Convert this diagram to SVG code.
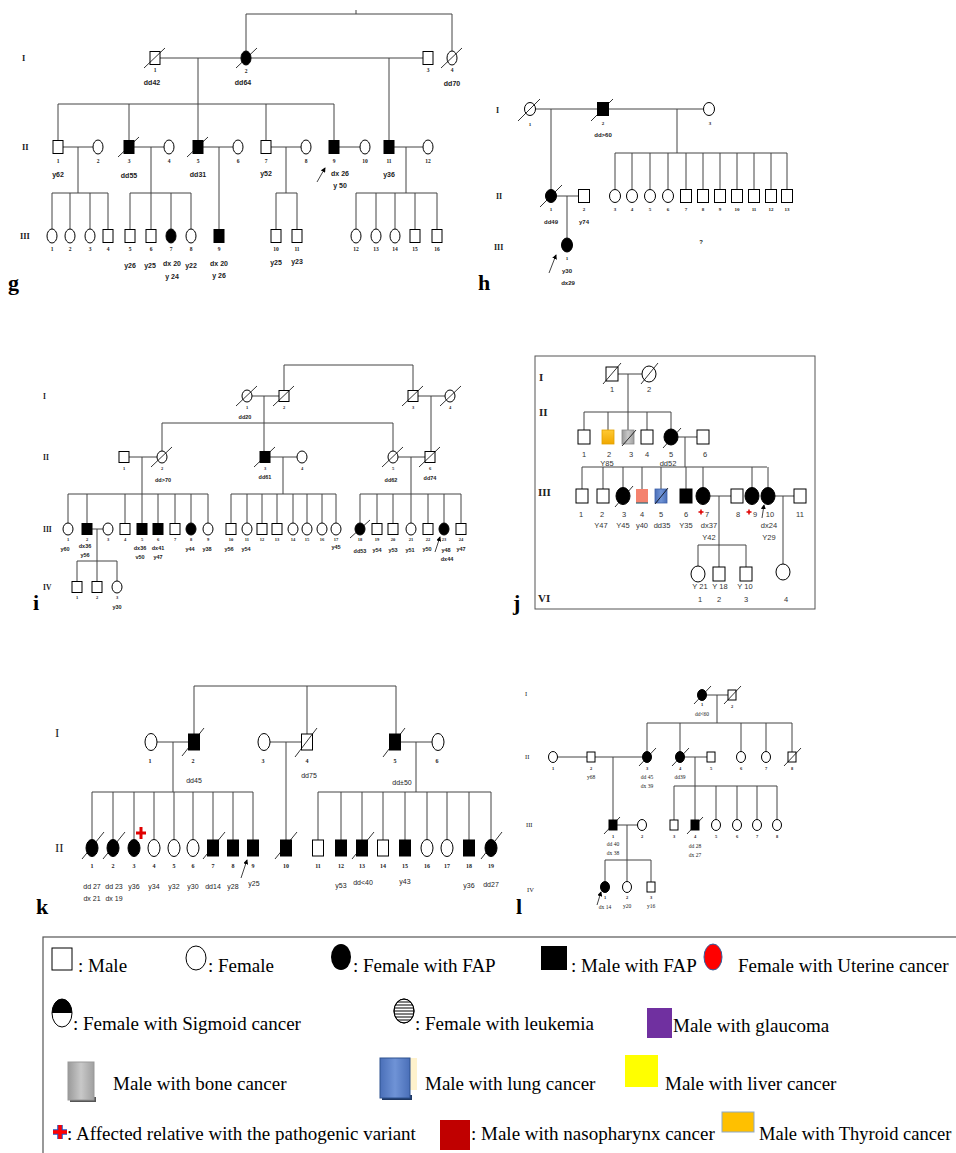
<svg xmlns="http://www.w3.org/2000/svg" width="956" height="1153" viewBox="0 0 956 1153">
<defs>
<style>
.o{fill:#fff;stroke:#000;stroke-width:1}
.f{fill:#000;stroke:#000;stroke-width:1}
.c{fill:none;stroke:#444;stroke-width:1}
.s{stroke:#000;stroke-width:0.8}
.t{font-family:"Liberation Sans Narrow","Liberation Sans",Arial,sans-serif;font-weight:bold;text-anchor:middle;fill:#222}
.n{font-family:"Liberation Serif",serif;font-weight:bold;text-anchor:middle;fill:#222}
.gen{font-family:"Liberation Serif",serif;font-weight:bold;fill:#222}
.pl{font-family:"Liberation Serif",serif;font-weight:bold;font-size:22px;fill:#000}
.lg{font-family:"Liberation Serif",serif;font-size:19px;fill:#000}
#pg .t{font-size:7px}#pg .n{font-size:5.5px}#pg .gen{font-size:8.5px}
#ph .t{font-size:6px}#ph .n{font-size:5px}#ph .gen{font-size:8px}
#pi .t{font-size:5.5px}#pi .n{font-size:4.5px}#pi .gen{font-size:7.5px}
#pj .t,#pj .n{font-size:7.5px;font-weight:normal;font-family:"Liberation Sans Narrow","Liberation Sans",sans-serif;fill:#333}#pj .gen{font-size:11px}
#pk .t{font-size:7px;font-weight:normal}#pk .n{font-size:6px}#pk .gen{font-size:13px;font-weight:normal}
#pl .t{font-size:5.5px;font-weight:normal;font-family:"Liberation Serif",serif}#pl .n{font-size:4.5px}#pl .gen{font-size:6.5px;font-weight:normal}
.rc{stroke:#e00000;fill:none}
</style>
<marker id="ah" viewBox="0 0 6 6" refX="5" refY="3" markerWidth="5" markerHeight="5" orient="auto"><path d="M0,0L6,3L0,6z" fill="#000"/></marker>
<linearGradient id="gGray" x1="0" y1="0" x2="1" y2="0"><stop offset="0" stop-color="#9a9a9a"/><stop offset="0.5" stop-color="#c8c8c8"/><stop offset="1" stop-color="#a0a0a0"/></linearGradient>
<linearGradient id="gBlue" x1="0" y1="0" x2="1" y2="0"><stop offset="0" stop-color="#4a6fb8"/><stop offset="0.5" stop-color="#6f93d6"/><stop offset="1" stop-color="#4a6fb8"/></linearGradient>
<linearGradient id="gOr" x1="0" y1="0" x2="0" y2="1"><stop offset="0" stop-color="#ffc933"/><stop offset="1" stop-color="#f0a800"/></linearGradient>
<clipPath id="leuk"><ellipse cx="404" cy="1011" rx="10" ry="12"/></clipPath>
</defs>
<rect width="956" height="1153" fill="#fff"/>

<!-- ================= PANEL g ================= -->
<g id="pg">
<g id="pg-links" class="c">
<path d="M246,51V14H452V51M356,10V14M160,58H241M251,58H423M198,58V104M58,104H334M58,104V140.5M129,104V140.5M198,104V140.5M266,104V140.5M334,104V140.5M389,58V140.5M63,147H93M134,147H164M203,147H233M271,147H301M339,147H360M394,147H423M78,147V193M52,193H108M52,193V229M70,193V229M90,193V229M108,193V229.5M151,147V193M130,193H191M130,193V229.5M151,193V229.5M171,193V229M191,193V229M219,147V229.5M286,147V193M276,193H297M276,193V229.5M297,193V229.5M406,147V193M356,193H437M356,193V229M376,193V229M395,193V229M415,193V229.5M437,193V229.5"/>
<path d="M317,182L325,168" marker-end="url(#ah)"/>
</g>
<text class="gen" x="22" y="61">I</text><text class="gen" x="22" y="150">II</text><text class="gen" x="20" y="239">III</text>
<text class="pl" x="8" y="290">g</text>
<g id="g-I-1"><rect class="o" x="150" y="51.5" width="10" height="13"/><line class="s" x1="144" y1="68" x2="165" y2="48"/><text class="n" x="155" y="72">1</text><text class="t" x="152" y="85">dd42</text></g>
<g id="g-I-2"><ellipse class="f" cx="246" cy="58" rx="5" ry="7"/><line class="s" x1="236" y1="68" x2="257" y2="48"/><text class="n" x="246" y="73">2</text><text class="t" x="243" y="85">dd64</text></g>
<g id="g-I-3"><rect class="o" x="423" y="51.5" width="10" height="13"/><text class="n" x="428" y="72">3</text></g>
<g id="g-I-4"><ellipse class="o" cx="452" cy="58" rx="5" ry="7"/><line class="s" x1="441" y1="68" x2="462" y2="48"/><text class="n" x="452" y="72">4</text><text class="t" x="452" y="86">dd70</text></g>
<g id="g-II-1"><rect class="o" x="53" y="140.5" width="10" height="13"/><text class="n" x="58" y="163">1</text><text class="t" x="58" y="177">y62</text></g>
<g id="g-II-2"><ellipse class="o" cx="98" cy="147" rx="5" ry="7"/><text class="n" x="98" y="163">2</text></g>
<g id="g-II-3"><rect class="f" x="124" y="140.5" width="10" height="13"/><line class="s" x1="118" y1="157" x2="139" y2="137"/><text class="n" x="129" y="163">3</text><text class="t" x="129" y="178">dd55</text></g>
<g id="g-II-4"><ellipse class="o" cx="169" cy="147" rx="5" ry="7"/><text class="n" x="169" y="163">4</text></g>
<g id="g-II-5"><rect class="f" x="193" y="140.5" width="10" height="13"/><line class="s" x1="187" y1="157" x2="208" y2="137"/><text class="n" x="198" y="163">5</text><text class="t" x="198" y="177">dd31</text></g>
<g id="g-II-6"><ellipse class="o" cx="238" cy="147" rx="5" ry="7"/><text class="n" x="238" y="163">6</text></g>
<g id="g-II-7"><rect class="o" x="261" y="140.5" width="10" height="13"/><text class="n" x="266" y="163">7</text><text class="t" x="266" y="176">y52</text></g>
<g id="g-II-8"><ellipse class="o" cx="306" cy="147" rx="5" ry="7"/><text class="n" x="306" y="163">8</text></g>
<g id="g-II-9"><rect class="f" x="329" y="140.5" width="10" height="13"/><text class="n" x="334" y="163">9</text><text class="t" x="340" y="176">dx 26</text><text class="t" x="340" y="188">y 50</text></g>
<g id="g-II-10"><ellipse class="o" cx="365" cy="147" rx="5" ry="7"/><text class="n" x="365" y="163">10</text></g>
<g id="g-II-11"><rect class="f" x="384" y="140.5" width="10" height="13"/><text class="n" x="389" y="163">11</text><text class="t" x="389" y="177">y36</text></g>
<g id="g-II-12"><ellipse class="o" cx="428" cy="147" rx="5" ry="7"/><text class="n" x="428" y="163">12</text></g>
<g id="g-III-1"><ellipse class="o" cx="52" cy="236" rx="5" ry="7"/><text class="n" x="52" y="251">1</text></g>
<g id="g-III-2"><ellipse class="o" cx="70" cy="236" rx="5" ry="7"/><text class="n" x="70" y="251">2</text></g>
<g id="g-III-3"><ellipse class="o" cx="90" cy="236" rx="5" ry="7"/><text class="n" x="90" y="251">3</text></g>
<g id="g-III-4"><rect class="o" x="103" y="229.5" width="10" height="13"/><text class="n" x="108" y="251">4</text></g>
<g id="g-III-5"><rect class="o" x="125" y="229.5" width="10" height="13"/><text class="n" x="130" y="251">5</text><text class="t" x="130" y="268">y26</text></g>
<g id="g-III-6"><rect class="o" x="146" y="229.5" width="10" height="13"/><text class="n" x="151" y="251">6</text><text class="t" x="150" y="268">y25</text></g>
<g id="g-III-7"><ellipse class="f" cx="171" cy="236" rx="5" ry="7"/><text class="n" x="171" y="251">7</text><text class="t" x="172" y="266">dx 20</text><text class="t" x="172" y="279">y 24</text></g>
<g id="g-III-8"><ellipse class="o" cx="191" cy="236" rx="5" ry="7"/><text class="n" x="191" y="251">8</text><text class="t" x="191" y="268">y22</text></g>
<g id="g-III-9"><rect class="f" x="214" y="229.5" width="10" height="13"/><text class="n" x="219" y="251">9</text><text class="t" x="219" y="266">dx 20</text><text class="t" x="219" y="278">y 26</text></g>
<g id="g-III-10"><rect class="o" x="271" y="229.5" width="10" height="13"/><text class="n" x="276" y="251">10</text><text class="t" x="276" y="265">y25</text></g>
<g id="g-III-11"><rect class="o" x="292" y="229.5" width="10" height="13"/><text class="n" x="297" y="251">11</text><text class="t" x="297" y="264">y23</text></g>
<g id="g-III-12"><ellipse class="o" cx="356" cy="236" rx="5" ry="7"/><text class="n" x="356" y="251">12</text></g>
<g id="g-III-13"><ellipse class="o" cx="376" cy="236" rx="5" ry="7"/><text class="n" x="376" y="251">13</text></g>
<g id="g-III-14"><ellipse class="o" cx="395" cy="236" rx="5" ry="7"/><text class="n" x="395" y="251">14</text></g>
<g id="g-III-15"><rect class="o" x="410" y="229.5" width="10" height="13"/><text class="n" x="415" y="251">15</text></g>
<g id="g-III-16"><rect class="o" x="432" y="229.5" width="10" height="13"/><text class="n" x="437" y="251">16</text></g>
</g>

<!-- ================= PANEL h ================= -->
<g id="ph">
<g id="ph-links" class="c">
<path d="M535.5,109H597.5M608.5,109H703.5M551,109V189.5M677,109V153M615,153H787M615,153V189.5M632,153V189.5M650,153V189.5M668,153V189.5M686,153V189.5M703,153V189.5M720,153V189.5M737,153V189.5M754,153V189.5M771,153V189.5M787,153V189.5M556.5,196H578.5M567,196V238"/>
<path d="M549,273L556,255" marker-end="url(#ah)"/>
</g>
<text class="gen" x="496" y="113">I</text><text class="gen" x="496" y="199">II</text><text class="gen" x="494" y="250">III</text>
<text class="pl" x="478" y="290">h</text>
<text class="t" x="701" y="244">?</text>
<g id="h-I-1"><ellipse class="o" cx="530" cy="109" rx="5.5" ry="6.5"/><line class="s" x1="518" y1="121" x2="540" y2="99"/><text class="n" x="530" y="126">1</text></g>
<g id="h-I-2"><rect class="f" x="597.5" y="102.5" width="11" height="13"/><line class="s" x1="591" y1="121" x2="613" y2="99"/><text class="n" x="603" y="125">2</text><text class="t" x="603" y="137">dd&gt;60</text></g>
<g id="h-I-3"><ellipse class="o" cx="709" cy="109" rx="5.5" ry="6.5"/><text class="n" x="710" y="125">3</text></g>
<g id="h-II-1"><ellipse class="f" cx="551" cy="196" rx="5.5" ry="6.5"/><line class="s" x1="540" y1="207" x2="562" y2="185"/><text class="n" x="551" y="211">1</text><text class="t" x="551" y="224">dd49</text></g>
<g id="h-II-2"><rect class="o" x="578.5" y="189.5" width="11" height="13"/><text class="n" x="584" y="211">2</text><text class="t" x="584" y="224">y74</text></g>
<g id="h-II-3"><ellipse class="o" cx="615" cy="196" rx="5.5" ry="6.5"/><text class="n" x="615" y="211">3</text></g>
<g id="h-II-4"><ellipse class="o" cx="632" cy="196" rx="5.5" ry="6.5"/><text class="n" x="632" y="211">4</text></g>
<g id="h-II-5"><ellipse class="o" cx="650" cy="196" rx="5.5" ry="6.5"/><text class="n" x="650" y="211">5</text></g>
<g id="h-II-6"><ellipse class="o" cx="668" cy="196" rx="5.5" ry="6.5"/><text class="n" x="668" y="211">6</text></g>
<g id="h-II-7"><rect class="o" x="680.5" y="189.5" width="11" height="13"/><text class="n" x="686" y="211">7</text></g>
<g id="h-II-8"><rect class="o" x="697.5" y="189.5" width="11" height="13"/><text class="n" x="703" y="211">8</text></g>
<g id="h-II-9"><rect class="o" x="714.5" y="189.5" width="11" height="13"/><text class="n" x="720" y="211">9</text></g>
<g id="h-II-10"><rect class="o" x="731.5" y="189.5" width="11" height="13"/><text class="n" x="737" y="211">10</text></g>
<g id="h-II-11"><rect class="o" x="748.5" y="189.5" width="11" height="13"/><text class="n" x="754" y="211">11</text></g>
<g id="h-II-12"><rect class="o" x="765.5" y="189.5" width="11" height="13"/><text class="n" x="771" y="211">12</text></g>
<g id="h-II-13"><rect class="o" x="781.5" y="189.5" width="11" height="13"/><text class="n" x="787" y="211">13</text></g>
<g id="h-III-1"><ellipse class="f" cx="567" cy="245" rx="5.5" ry="7"/><text class="n" x="567" y="260">1</text><text class="t" x="567" y="273">y30</text><text class="t" x="568" y="285">dx29</text></g>
</g>

<!-- ================= PANEL i ================= -->
<g id="pi">
<g id="pi-links" class="c">
<path d="M284,390.5V365H413V390.5M252,396H279M418,396H445M264,396V451.5M431,396V451.5M162,423H393M162,423V451M393,423V451M129,457H157M142,457V494M68,494H208M68,494V523M87,494V523.5M125,494V523.5M142,494V523.5M158,494V523.5M175,494V523.5M191,494V523M208,494V523M270,457H297M283,457V494M231,494H336M231,494V523.5M247,494V523M262,494V523.5M277,494V523.5M293,494V523M307,494V523M322,494V523M336,494V523M398,457H425M411,457V494M360,494H461M360,494V523M377,494V523.5M393,494V523.5M411,494V523M428,494V523.5M444,494V523M461,494V523.5M92,529H103M97,529V561M77,561H117M77,561V581.5M97,561V581.5M117,561V581"/>
<path d="M435,552L440,537" marker-end="url(#ah)"/>
</g>
<text class="gen" x="43" y="399">I</text><text class="gen" x="43" y="460">II</text><text class="gen" x="43" y="532">III</text><text class="gen" x="43" y="590">IV</text>
<text class="pl" x="33" y="610">i</text>
<g id="i-I-1"><ellipse class="o" cx="247" cy="396" rx="5" ry="6"/><line class="s" x1="236" y1="406" x2="257" y2="386"/><text class="n" x="247" y="409">1</text><text class="t" x="245" y="419">dd20</text></g>
<g id="i-I-2"><rect class="o" x="279" y="390.5" width="10" height="11"/><line class="s" x1="273" y1="406" x2="294" y2="386"/><text class="n" x="284" y="409">2</text></g>
<g id="i-I-3"><rect class="o" x="408" y="390.5" width="10" height="11"/><line class="s" x1="402" y1="406" x2="423" y2="386"/><text class="n" x="413" y="409">3</text></g>
<g id="i-I-4"><ellipse class="o" cx="450" cy="396" rx="5" ry="6"/><line class="s" x1="440" y1="406" x2="461" y2="386"/><text class="n" x="450" y="409">4</text></g>
<g id="i-II-1"><rect class="o" x="119" y="451.5" width="10" height="11"/><text class="n" x="124" y="470">1</text></g>
<g id="i-II-2"><ellipse class="o" cx="162" cy="457" rx="5" ry="6"/><line class="s" x1="151" y1="467" x2="172" y2="447"/><text class="n" x="162" y="470">2</text><text class="t" x="163" y="482">dd&gt;70</text></g>
<g id="i-II-3"><rect class="f" x="260" y="451.5" width="10" height="11"/><line class="s" x1="254" y1="467" x2="275" y2="447"/><text class="n" x="265" y="470">3</text><text class="t" x="265" y="479">dd61</text></g>
<g id="i-II-4"><ellipse class="o" cx="302" cy="457" rx="5" ry="6"/><text class="n" x="302" y="470">4</text></g>
<g id="i-II-5"><ellipse class="o" cx="393" cy="457" rx="5" ry="6"/><line class="s" x1="382" y1="467" x2="403" y2="447"/><text class="n" x="393" y="470">5</text><text class="t" x="391" y="482">dd62</text></g>
<g id="i-II-6"><rect class="o" x="425" y="451.5" width="10" height="11"/><line class="s" x1="419" y1="467" x2="440" y2="447"/><text class="n" x="430" y="470">6</text><text class="t" x="430" y="480">dd74</text></g>
<g id="i-III-1"><ellipse class="o" cx="68" cy="529" rx="5" ry="6"/><text class="n" x="68" y="541">1</text><text class="t" x="65" y="551">y60</text></g>
<g id="i-III-2"><rect class="f" x="82" y="523.5" width="10" height="11"/><text class="n" x="87" y="541">2</text><text class="t" x="85" y="548">dx36</text><text class="t" x="85" y="557">y56</text></g>
<g id="i-III-3"><ellipse class="o" cx="108" cy="529" rx="5" ry="6"/><text class="n" x="108" y="541">3</text></g>
<g id="i-III-4"><rect class="o" x="120" y="523.5" width="10" height="11"/><text class="n" x="125" y="541">4</text></g>
<g id="i-III-5"><rect class="f" x="137" y="523.5" width="10" height="11"/><text class="n" x="142" y="541">5</text><text class="t" x="140" y="550">dx36</text><text class="t" x="140" y="559">v50</text></g>
<g id="i-III-6"><rect class="f" x="153" y="523.5" width="10" height="11"/><text class="n" x="158" y="541">6</text><text class="t" x="158" y="550">dx41</text><text class="t" x="158" y="559">y47</text></g>
<g id="i-III-7"><rect class="o" x="170" y="523.5" width="10" height="11"/><text class="n" x="175" y="541">7</text></g>
<g id="i-III-8"><ellipse class="f" cx="191" cy="529" rx="5" ry="6"/><text class="n" x="191" y="541">8</text><text class="t" x="190" y="551">y44</text></g>
<g id="i-III-9"><ellipse class="o" cx="208" cy="529" rx="5" ry="6"/><text class="n" x="208" y="541">9</text><text class="t" x="207" y="551">y38</text></g>
<g id="i-III-10"><rect class="o" x="226" y="523.5" width="10" height="11"/><text class="n" x="231" y="541">10</text><text class="t" x="229" y="551">y56</text></g>
<g id="i-III-11"><ellipse class="o" cx="247" cy="529" rx="5" ry="6"/><text class="n" x="247" y="541">11</text><text class="t" x="246" y="551">y54</text></g>
<g id="i-III-12"><rect class="o" x="257" y="523.5" width="10" height="11"/><text class="n" x="262" y="541">12</text></g>
<g id="i-III-13"><rect class="o" x="272" y="523.5" width="10" height="11"/><text class="n" x="277" y="541">13</text></g>
<g id="i-III-14"><ellipse class="o" cx="293" cy="529" rx="5" ry="6"/><text class="n" x="293" y="541">14</text></g>
<g id="i-III-15"><ellipse class="o" cx="307" cy="529" rx="5" ry="6"/><text class="n" x="307" y="541">15</text></g>
<g id="i-III-16"><ellipse class="o" cx="322" cy="529" rx="5" ry="6"/><text class="n" x="322" y="541">16</text></g>
<g id="i-III-17"><ellipse class="o" cx="336" cy="529" rx="5" ry="6"/><text class="n" x="336" y="541">17</text><text class="t" x="336" y="549">y45</text></g>
<g id="i-III-18"><ellipse class="f" cx="360" cy="529" rx="5" ry="6"/><line class="s" x1="350" y1="538" x2="370" y2="520"/><text class="n" x="360" y="541">18</text><text class="t" x="360" y="553">dd53</text></g>
<g id="i-III-19"><rect class="o" x="372" y="523.5" width="10" height="11"/><text class="n" x="377" y="541">19</text><text class="t" x="377" y="552">y54</text></g>
<g id="i-III-20"><rect class="o" x="388" y="523.5" width="10" height="11"/><text class="n" x="393" y="541">20</text><text class="t" x="393" y="552">y53</text></g>
<g id="i-III-21"><ellipse class="o" cx="411" cy="529" rx="5" ry="6"/><text class="n" x="411" y="541">21</text><text class="t" x="410" y="552">y51</text></g>
<g id="i-III-22"><rect class="o" x="423" y="523.5" width="10" height="11"/><text class="n" x="428" y="541">22</text><text class="t" x="427" y="551">y50</text></g>
<g id="i-III-23"><ellipse class="f" cx="444" cy="529" rx="5" ry="6"/><text class="n" x="444" y="541">23</text><text class="t" x="446" y="552">y48</text><text class="t" x="447" y="561">dx44</text></g>
<g id="i-III-24"><rect class="o" x="456" y="523.5" width="10" height="11"/><text class="n" x="461" y="541">24</text><text class="t" x="461" y="551">y47</text></g>
<g id="i-IV-1"><rect class="o" x="72" y="581.5" width="10" height="11"/><text class="n" x="77" y="599">1</text></g>
<g id="i-IV-2"><rect class="o" x="92" y="581.5" width="10" height="11"/><text class="n" x="97" y="599">2</text></g>
<g id="i-IV-3"><ellipse class="o" cx="117" cy="587" rx="5" ry="6"/><text class="n" x="117" y="599">3</text><text class="t" x="117" y="609">y30</text></g>
</g>

<!-- ================= PANEL j ================= -->
<g id="pj">
<rect x="535" y="356" width="280" height="253" fill="none" stroke="#555" stroke-width="1"/>
<g id="pj-links" class="c">
<path d="M618,374H642M628,374V412M584,412H671M584,412V430M608,412V430M628,412V430M647,412V430M671,412V429M678,437H697M685,437V467M582,467H767M582,467V489M603,467V489M623,467V487.5M642,467V489M661,467V489M686,467V489M703,467V487.5M752,467V487.5M768,467V487.5M710,496H731M719,496V545M698,545H746M698,545V566M719,545V567M746,545V567M775,496H794M783,496V564"/>
<path d="M762,518L764,505" marker-end="url(#ah)"/>
</g>
<text class="gen" x="539" y="381">I</text><text class="gen" x="539" y="416">II</text><text class="gen" x="538" y="496">III</text><text class="gen" x="538" y="602">VI</text>
<text class="pl" x="513" y="610">j</text>
<g id="j-I-1"><rect class="o" x="606" y="367" width="12" height="14"/><line class="s" x1="603" y1="384" x2="621" y2="363"/><text class="n" x="612" y="392">1</text></g>
<g id="j-I-2"><ellipse class="o" cx="649" cy="374" rx="7" ry="8"/><line class="s" x1="641" y1="384" x2="658" y2="363"/><text class="n" x="649" y="392">2</text></g>
<g id="j-II-1"><rect class="o" x="578" y="430" width="12" height="14"/><text class="n" x="584" y="457">1</text></g>
<g id="j-II-2"><rect x="602" y="430" width="12" height="14" fill="url(#gOr)" stroke="#e0a000" stroke-width="0.8"/><text class="n" x="609" y="457">2</text><text class="t" x="607" y="466">Y85</text></g>
<g id="j-II-3"><rect x="622" y="430" width="12" height="14" fill="url(#gGray)" stroke="#888" stroke-width="0.8"/><line class="s" x1="622" y1="446" x2="636" y2="430"/><text class="n" x="631" y="457">3</text></g>
<g id="j-II-4"><rect class="o" x="641" y="430" width="12" height="14"/><text class="n" x="647" y="457">4</text></g>
<g id="j-II-5"><ellipse class="f" cx="671" cy="437" rx="7" ry="8"/><line class="s" x1="663" y1="448" x2="681" y2="428"/><text class="n" x="671" y="457">5</text><text class="t" x="668" y="466">dd52</text></g>
<g id="j-II-6"><rect class="o" x="697" y="430" width="12" height="14"/><text class="n" x="705" y="457">6</text></g>
<g id="j-III-1"><rect class="o" x="576" y="489" width="12" height="14"/><text class="n" x="581" y="517">1</text></g>
<g id="j-III-2"><rect class="o" x="597" y="489" width="12" height="14"/><text class="n" x="602" y="517">2</text><text class="t" x="601" y="528">Y47</text></g>
<g id="j-III-3"><ellipse class="f" cx="623" cy="496" rx="7" ry="8.5"/><line class="s" x1="615" y1="507" x2="633" y2="486"/><text class="n" x="624" y="517">3</text><text class="t" x="623" y="528">Y45</text></g>
<g id="j-III-4"><rect x="636" y="489" width="12" height="14" fill="#f4826e"/><line x1="636" y1="503" x2="648" y2="503" stroke="#2a6b7a" stroke-width="1.2"/><text class="n" x="642" y="517">4</text><text class="t" x="642" y="528">y40</text></g>
<g id="j-III-5"><rect x="655" y="489" width="12" height="14" fill="url(#gBlue)" stroke="#3d5fa8" stroke-width="0.8"/><line class="s" x1="655" y1="504" x2="668" y2="488"/><text class="n" x="661" y="517">5</text><text class="t" x="662" y="528">dd35</text></g>
<g id="j-III-6"><rect class="f" x="680" y="489" width="12" height="14"/><text class="n" x="686" y="517">6</text><text class="t" x="686" y="528">Y35</text></g>
<g id="j-III-7"><ellipse class="f" cx="703" cy="496" rx="7" ry="8.5"/><path class="rc" stroke-width="1.5" d="M698.5,512H703.5M701,509.5V514.5"/><text class="n" x="707" y="517">7</text><text class="t" x="709" y="528">dx37</text><text class="t" x="709" y="540">Y42</text></g>
<g id="j-III-8"><rect class="o" x="731" y="489" width="12" height="14"/><text class="n" x="738" y="517">8</text></g>
<g id="j-III-9"><ellipse class="f" cx="752" cy="496" rx="7" ry="8.5"/><path class="rc" stroke-width="1.5" d="M746.5,512H751.5M749,509.5V514.5"/><text class="n" x="755" y="517">9</text></g>
<g id="j-III-10"><ellipse class="f" cx="768" cy="496" rx="7" ry="8.5"/><text class="n" x="770" y="517">10</text><text class="t" x="769" y="528">dx24</text><text class="t" x="769" y="540">Y29</text></g>
<g id="j-III-11"><rect class="o" x="794" y="489" width="12" height="14"/><text class="n" x="800" y="517">11</text></g>
<g id="j-VI-1"><ellipse class="o" cx="698" cy="574" rx="7" ry="8"/><text class="t" x="700" y="589">Y 21</text><text class="n" x="700" y="602">1</text></g>
<g id="j-VI-2"><rect class="o" x="713" y="567" width="12" height="14"/><text class="t" x="720" y="589">Y 18</text><text class="n" x="719" y="602">2</text></g>
<g id="j-VI-3"><rect class="o" x="740" y="567" width="12" height="14"/><text class="t" x="745" y="589">Y 10</text><text class="n" x="746" y="602">3</text></g>
<g id="j-VI-4"><ellipse class="o" cx="783" cy="572" rx="7" ry="8"/><text class="n" x="786" y="602">4</text></g>
</g>

<!-- ================= PANEL k ================= -->
<g id="pk">
<g id="pk-links" class="c">
<path d="M194,734V686H396V734M307,686V734M157,742H188.5M270,742H301.5M400.5,742H432M173,742V792M92,792H253M92,792V839.5M113,792V839.5M134,792V839.5M154,792V839.5M174,792V839.5M193,792V839.5M213,792V840M233,792V840M253,792V840M286,742V840M416,742V792M318,792H491M318,792V840M341,792V840M362,792V840M383,792V840M405,792V840M427,792V839.5M447,792V839.5M469,792V840M491,792V839.5"/>
<path d="M241,878L247,860" marker-end="url(#ah)"/>
</g>
<text class="gen" x="55" y="737">I</text><text class="gen" x="55" y="852">II</text>
<text class="pl" x="36" y="914">k</text>
<g id="k-I-1"><ellipse class="o" cx="151" cy="742" rx="6" ry="8.5"/><text class="n" x="150" y="763">1</text></g>
<g id="k-I-2"><rect class="f" x="188.5" y="734" width="11" height="16"/><line class="s" x1="182" y1="756" x2="204" y2="728"/><text class="n" x="193" y="763">2</text><text class="t" x="194" y="783">dd45</text></g>
<g id="k-I-3"><ellipse class="o" cx="264" cy="742" rx="6" ry="8.5"/><text class="n" x="263" y="763">3</text></g>
<g id="k-I-4"><rect class="o" x="301.5" y="734" width="11" height="16"/><line class="s" x1="295" y1="757" x2="317" y2="728"/><text class="n" x="307" y="763">4</text><text class="t" x="309" y="778">dd75</text></g>
<g id="k-I-5"><rect class="f" x="389.5" y="734" width="11" height="16"/><line class="s" x1="383" y1="757" x2="405" y2="728"/><text class="n" x="395" y="763">5</text><text class="t" x="402" y="785">dd±50</text></g>
<g id="k-I-6"><ellipse class="o" cx="438" cy="742" rx="6" ry="8.5"/><text class="n" x="437" y="763">6</text></g>
<g id="k-II-1"><ellipse class="f" cx="92" cy="848" rx="6" ry="8.5"/><line class="s" x1="82" y1="859" x2="104" y2="832"/><text class="n" x="92" y="868">1</text><text class="t" x="92" y="889">dd 27</text><text class="t" x="92" y="901">dx 21</text></g>
<g id="k-II-2"><ellipse class="f" cx="113" cy="848" rx="6" ry="8.5"/><line class="s" x1="103" y1="859" x2="125" y2="832"/><text class="n" x="113" y="868">2</text><text class="t" x="114" y="889">dd 23</text><text class="t" x="114" y="901">dx 19</text></g>
<g id="k-II-3"><ellipse class="f" cx="134" cy="848" rx="6" ry="8.5"/><path class="rc" stroke-width="3" d="M136,833H146M141,827V839"/><text class="n" x="134" y="868">3</text><text class="t" x="134" y="889">y36</text></g>
<g id="k-II-4"><ellipse class="o" cx="154" cy="848" rx="6" ry="8.5"/><text class="n" x="154" y="868">4</text><text class="t" x="154" y="889">y34</text></g>
<g id="k-II-5"><ellipse class="o" cx="174" cy="848" rx="6" ry="8.5"/><text class="n" x="174" y="868">5</text><text class="t" x="174" y="889">y32</text></g>
<g id="k-II-6"><ellipse class="o" cx="193" cy="848" rx="6" ry="8.5"/><text class="n" x="193" y="868">6</text><text class="t" x="193" y="889">y30</text></g>
<g id="k-II-7"><rect class="f" x="207.5" y="840" width="11" height="16"/><line class="s" x1="203" y1="859" x2="225" y2="832"/><text class="n" x="213" y="868">7</text><text class="t" x="213" y="889">dd14</text></g>
<g id="k-II-8"><rect class="f" x="227.5" y="840" width="11" height="16"/><text class="n" x="233" y="868">8</text><text class="t" x="233" y="889">y28</text></g>
<g id="k-II-9"><rect class="f" x="247.5" y="840" width="11" height="16"/><text class="n" x="253" y="868">9</text><text class="t" x="254" y="886">y25</text></g>
<g id="k-II-10"><rect class="f" x="280.5" y="840" width="11" height="16"/><line class="s" x1="275" y1="859" x2="297" y2="832"/><text class="n" x="286" y="868">10</text></g>
<g id="k-II-11"><rect class="o" x="312.5" y="840" width="11" height="16"/><text class="n" x="318" y="868">11</text></g>
<g id="k-II-12"><rect class="f" x="335.5" y="840" width="11" height="16"/><text class="n" x="341" y="868">12</text><text class="t" x="341" y="888">y53</text></g>
<g id="k-II-13"><rect class="f" x="356.5" y="840" width="11" height="16"/><line class="s" x1="352" y1="859" x2="374" y2="832"/><text class="n" x="362" y="868">13</text><text class="t" x="363" y="885">dd&lt;40</text></g>
<g id="k-II-14"><rect class="o" x="377.5" y="840" width="11" height="16"/><text class="n" x="383" y="868">14</text></g>
<g id="k-II-15"><rect class="f" x="399.5" y="840" width="11" height="16"/><text class="n" x="405" y="868">15</text><text class="t" x="405" y="884">y43</text></g>
<g id="k-II-16"><ellipse class="o" cx="427" cy="848" rx="6" ry="8.5"/><text class="n" x="427" y="868">16</text></g>
<g id="k-II-17"><ellipse class="o" cx="447" cy="848" rx="6" ry="8.5"/><text class="n" x="447" y="868">17</text></g>
<g id="k-II-18"><rect class="f" x="463.5" y="840" width="11" height="16"/><text class="n" x="469" y="868">18</text><text class="t" x="469" y="888">y36</text></g>
<g id="k-II-19"><ellipse class="f" cx="491" cy="848" rx="6" ry="8.5"/><line class="s" x1="481" y1="859" x2="502" y2="832"/><text class="n" x="491" y="868">19</text><text class="t" x="491" y="887">dd27</text></g>
</g>

<!-- ================= PANEL l ================= -->
<g id="pl">
<g id="pl-links" class="c">
<path d="M706.5,695H728M717,695V723M647,723H792M647,723V751.5M680,723V751.5M741,723V751.5M766,723V751.5M792,723V752M557.5,757H587M595,757H642.5M684.5,757H707M613,757V820M695,757V786M674,786H777M674,786V820M695,786V820M716,786V819.5M737,786V819.5M757,786V819.5M777,786V819.5M617,825H637.5M627,825V860M605,860H651M605,860V881.5M627,860V881.5M651,860V882"/>
<path d="M597,905L601,892" marker-end="url(#ah)"/>
</g>
<text class="gen" x="525" y="696">I</text><text class="gen" x="525" y="759">II</text><text class="gen" x="526" y="827">III</text><text class="gen" x="527" y="892">IV</text>
<text class="pl" x="516" y="914">l</text>
<g id="l-I-1"><ellipse class="f" cx="702" cy="695" rx="4.5" ry="5.5"/><line class="s" x1="694" y1="704" x2="711" y2="686"/><text class="n" x="702" y="706">1</text><text class="t" x="702" y="716">dd&lt;60</text></g>
<g id="l-I-2"><rect class="o" x="728" y="690" width="8" height="10"/><line class="s" x1="724" y1="704" x2="741" y2="686"/><text class="n" x="732" y="708">2</text></g>
<g id="l-II-1"><ellipse class="o" cx="553" cy="757" rx="4.5" ry="5.5"/><text class="n" x="553" y="770">1</text></g>
<g id="l-II-2"><rect class="o" x="587" y="752" width="8" height="10"/><text class="n" x="591" y="770">2</text><text class="t" x="591" y="779">y68</text></g>
<g id="l-II-3"><ellipse class="f" cx="647" cy="757" rx="4.5" ry="5.5"/><line class="s" x1="639" y1="766" x2="656" y2="748"/><text class="n" x="647" y="770">3</text><text class="t" x="647" y="779">dd 45</text><text class="t" x="647" y="788">dx 39</text></g>
<g id="l-II-4"><ellipse class="f" cx="680" cy="757" rx="4.5" ry="5.5"/><line class="s" x1="672" y1="766" x2="689" y2="748"/><text class="n" x="680" y="770">4</text><text class="t" x="680" y="779">dd39</text></g>
<g id="l-II-5"><rect class="o" x="707" y="752" width="8" height="10"/><text class="n" x="711" y="770">5</text></g>
<g id="l-II-6"><ellipse class="o" cx="741" cy="757" rx="4.5" ry="5.5"/><text class="n" x="741" y="770">6</text></g>
<g id="l-II-7"><ellipse class="o" cx="766" cy="757" rx="4.5" ry="5.5"/><text class="n" x="766" y="770">7</text></g>
<g id="l-II-8"><rect class="o" x="788" y="752" width="8" height="10"/><line class="s" x1="784" y1="766" x2="801" y2="748"/><text class="n" x="792" y="770">8</text></g>
<g id="l-III-1"><rect class="f" x="609" y="820" width="8" height="10"/><line class="s" x1="604" y1="834" x2="620" y2="817"/><text class="n" x="613" y="838">1</text><text class="t" x="613" y="846">dd 40</text><text class="t" x="613" y="855">dx 38</text></g>
<g id="l-III-2"><ellipse class="o" cx="642" cy="825" rx="4.5" ry="5.5"/><text class="n" x="642" y="838">2</text></g>
<g id="l-III-3"><rect class="o" x="670" y="820" width="8" height="10"/><text class="n" x="674" y="838">3</text></g>
<g id="l-III-4"><rect class="f" x="691" y="820" width="8" height="10"/><line class="s" x1="687" y1="834" x2="703" y2="817"/><text class="n" x="695" y="838">4</text><text class="t" x="695" y="848">dd 28</text><text class="t" x="695" y="857">dx 27</text></g>
<g id="l-III-5"><ellipse class="o" cx="716" cy="825" rx="4.5" ry="5.5"/><text class="n" x="716" y="838">5</text></g>
<g id="l-III-6"><ellipse class="o" cx="737" cy="825" rx="4.5" ry="5.5"/><text class="n" x="737" y="838">6</text></g>
<g id="l-III-7"><ellipse class="o" cx="757" cy="825" rx="4.5" ry="5.5"/><text class="n" x="757" y="838">7</text></g>
<g id="l-III-8"><ellipse class="o" cx="777" cy="825" rx="4.5" ry="5.5"/><text class="n" x="777" y="838">8</text></g>
<g id="l-IV-1"><ellipse class="f" cx="605" cy="887" rx="4.5" ry="5.5"/><text class="n" x="605" y="899">1</text><text class="t" x="605" y="909">dx 14</text></g>
<g id="l-IV-2"><ellipse class="o" cx="627" cy="887" rx="4.5" ry="5.5"/><text class="n" x="627" y="899">2</text><text class="t" x="627" y="908">y20</text></g>
<g id="l-IV-3"><rect class="o" x="647" y="882" width="8" height="10"/><text class="n" x="651" y="899">3</text><text class="t" x="651" y="908">y16</text></g>
</g>

<!-- ================= LEGEND ================= -->
<g id="legend">
<rect x="43" y="937" width="930" height="230" fill="none" stroke="#555" stroke-width="1.2"/>
<g id="lg-male"><rect class="o" x="52" y="948" width="20" height="22"/><text class="lg" x="78" y="972">: Male</text></g>
<g id="lg-female"><ellipse class="o" cx="196" cy="958" rx="10" ry="12"/><text class="lg" x="208" y="972">: Female</text></g>
<g id="lg-ffap"><ellipse cx="341" cy="957" rx="10" ry="13" fill="#000"/><text class="lg" x="353" y="972">: Female with FAP</text></g>
<g id="lg-mfap"><rect x="541" y="946" width="26" height="24" fill="#000"/><text class="lg" x="571" y="972">: Male with FAP</text></g>
<g id="lg-uter"><ellipse cx="713" cy="957" rx="9" ry="13" fill="#f00" stroke="#3060a0" stroke-width="1"/><text class="lg" x="738" y="972">Female with Uterine cancer</text></g>
<g id="lg-sig"><ellipse class="o" cx="62" cy="1013" rx="10" ry="14"/><path d="M52,1013A10,14 0 0 1 72,1013Z" fill="#000"/><text class="lg" x="73" y="1030">: Female with Sigmoid cancer</text></g>
<g id="lg-leuk"><ellipse class="o" cx="404" cy="1011" rx="10" ry="12"/><g clip-path="url(#leuk)" stroke="#000" stroke-width="1"><path d="M390,1002H418M390,1005H418M390,1008H418M390,1011H418M390,1014H418M390,1017H418M390,1020H418"/></g><ellipse cx="404" cy="1011" rx="10" ry="12" fill="none" stroke="#000"/><text class="lg" x="415" y="1030">: Female with leukemia</text></g>
<g id="lg-glau"><rect x="647" y="1008" width="25" height="30" fill="#7030a0"/><text class="lg" x="673" y="1032">Male with glaucoma</text></g>
<g id="lg-bone"><rect x="70" y="1097" width="26" height="5" fill="#555"/><rect x="68" y="1062" width="26" height="38" fill="url(#gGray)" stroke="#999" stroke-width="1"/><text class="lg" x="113" y="1090">Male with bone cancer</text></g>
<g id="lg-lung"><rect x="405" y="1058" width="12" height="32" fill="#fff2cc"/><rect x="382" y="1095" width="30" height="5" fill="#1f3864"/><rect x="380" y="1058" width="30" height="40" fill="url(#gBlue)" stroke="#2f528f" stroke-width="1"/><text class="lg" x="425" y="1090">Male with lung cancer</text></g>
<g id="lg-liver"><rect x="625" y="1055" width="33" height="32" fill="#ffff00"/><text class="lg" x="665" y="1090">Male with liver cancer</text></g>
<g id="lg-cross"><path d="M60,1125V1139M53,1132H67" stroke="#2050c0" stroke-width="5.5"/><path d="M60,1125V1139M53,1132H67" stroke="#f00" stroke-width="3.5"/><text class="lg" x="67" y="1140">: Affected relative with the pathogenic variant</text></g>
<g id="lg-naso"><rect x="440" y="1120" width="30" height="30" fill="#c00000"/><text class="lg" x="471" y="1140">: Male with nasopharynx cancer</text></g>
<g id="lg-thy"><rect x="722" y="1112" width="32" height="20" fill="#ffc000" stroke="#8ea9c8" stroke-width="1"/><text class="lg" x="759" y="1140" style="font-size:18.5px">Male with Thyroid cancer</text></g>
</g>
</svg>
